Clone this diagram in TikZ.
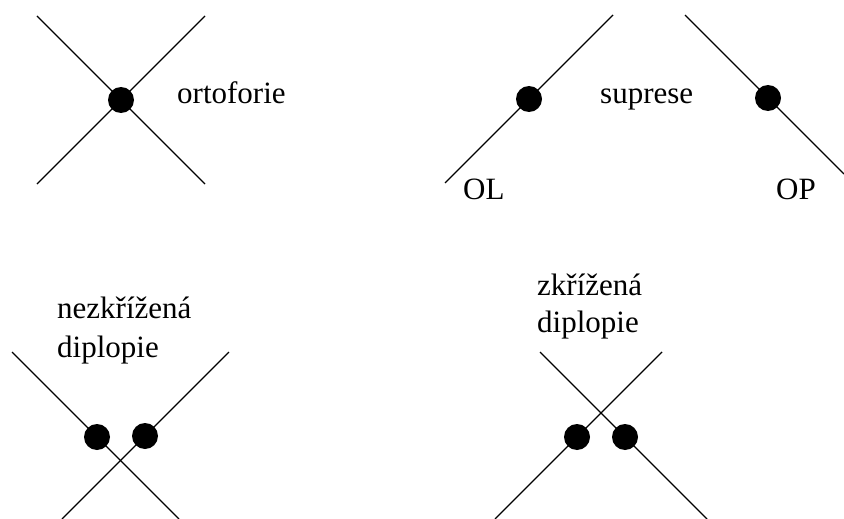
\documentclass[tikz,border=0pt]{standalone}
\usepackage{fontspec}
\setmainfont{Liberation Serif}
\begin{document}
\begin{tikzpicture}[x=1pt,y=-1pt,
  ray/.style={line width=1.4pt},
  dot/.style={circle,fill=black,inner sep=0pt,minimum size=26pt},
  lbl/.style={inner sep=0pt,anchor=base west,font=\fontsize{31}{38}\selectfont}]
\useasboundingbox (0,0) rectangle (844,519);
% top-left: ortoforie
\coordinate (a1) at (37,16);  \coordinate (a2) at (205,184);
\coordinate (a3) at (37,184); \coordinate (a4) at (205,16);
\draw[ray] (a1) -- (a2);
\draw[ray] (a3) -- (a4);
\node[dot] (d0) at (121,100) {};
\node[lbl] (orto) at (177,103) {ortoforie};
% top-right: suprese
\coordinate (b1) at (445,183); \coordinate (b2) at (613,15);
\coordinate (b3) at (685,15);  \coordinate (b4) at (844,174);
\draw[ray] (b1) -- (b2);
\draw[ray] (b3) -- (b4);
\node[dot] (dl) at (529,99) {};
\node[dot] (dr) at (768,98) {};
\node[lbl] (sup) at (600,103) {suprese};
\node[lbl] (ol) at (463,199) {OL};
\node[lbl] (op) at (776,199) {OP};
% bottom-left: nezkrizena diplopie
\coordinate (c1) at (12,352);  \coordinate (c2) at (179,519);
\coordinate (c3) at (229,352); \coordinate (c4) at (62,519);
\draw[ray] (c1) -- (c2);
\draw[ray] (c3) -- (c4);
\node[dot] (e1) at (97,437) {};
\node[dot] (e2) at (145,436) {};
\node[lbl] (nz1) at (57,318) {nezkřížená};
\node[lbl] (nz2) at (57,357) {diplopie};
% bottom-right: zkrizena diplopie
\coordinate (f1) at (540,352); \coordinate (f2) at (707,519);
\coordinate (f3) at (662,352); \coordinate (f4) at (495,519);
\draw[ray] (f1) -- (f2);
\draw[ray] (f3) -- (f4);
\node[dot] (g1) at (577,437) {};
\node[dot] (g2) at (625,437) {};
\node[lbl] (zk1) at (537,295) {zkřížená};
\node[lbl] (zk2) at (537,332) {diplopie};
\end{tikzpicture}
\end{document}
